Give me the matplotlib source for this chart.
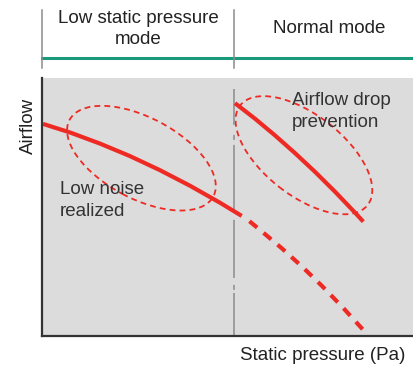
import matplotlib.pyplot as plt
from matplotlib.patches import Ellipse

plt.rcParams['font.family'] = ['Liberation Sans', 'DejaVu Sans']
plt.rcParams['lines.scale_dashes'] = False

# fan curves (static pressure, airflow) in arbitrary units
low_p = [0.27, 7.55, 15.63, 23.72, 31.81, 39.89, 47.98, 53.83]
low_q = [57.14, 54.83, 51.83, 48.46, 44.66, 40.48, 35.90, 32.35]
drop_p = [54.18, 59.30, 64.69, 70.08, 75.47, 80.86, 86.60]
drop_q = [32.35, 28.13, 23.58, 18.71, 13.48, 7.92, 1.62]
norm_p = [52.02, 57.41, 62.80, 68.19, 73.58, 78.98, 84.37, 86.60]
norm_q = [62.72, 58.54, 54.04, 49.27, 44.23, 38.87, 33.23, 30.81]

switch_p = 51.75
mode_labels = ["Low static pressure\nmode", "Normal mode"]

red = '#ee2a24'
W, H = 413, 369
fig = plt.figure(figsize=(W / 100, H / 100), dpi=100)
ax = fig.add_axes([42 / W, 33 / H, 371 / W, 258 / H])
ax.set_xlim(0, 100)
ax.set_ylim(0, 69.5)
ax.set_facecolor('#dcdcdc')
ax.set_xticks([])
ax.set_yticks([])
for s in ['top', 'right']:
    ax.spines[s].set_visible(False)
for s in ['left', 'bottom']:
    ax.spines[s].set_color('#333333')
    ax.spines[s].set_linewidth(1.6)

# mode switch line, uneven dash-dot
ln, = ax.plot([switch_p, switch_p], [0, 66.6], color='#8c8c8c', lw=1.1)
ln.set_dashes((31, 2.2, 3.6, 5, 41.8, 7.2, 46.8, 3.6, 3.6, 7.2, 29, 5))

ax.plot(low_p, low_q, color=red, lw=3, solid_capstyle='butt',
        solid_joinstyle='round')
ax.plot(norm_p, norm_q, color=red, lw=3, solid_capstyle='butt',
        solid_joinstyle='round')
# dashed part starts with a gap so the last dash lands on the end point
ax.plot(drop_p, drop_q, color=red, lw=3, ls=(7.2, (7.2, 6)))

ax.add_patch(Ellipse((26.8, 47.9), 43.9, 21.8, angle=-28, fill=False,
                     ec=red, lw=1.3, ls=(0, (4.2, 3))))
ax.add_patch(Ellipse((70.6, 48.7), 43.6, 21.7, angle=-38, fill=False,
                     ec=red, lw=1.3, ls=(0, (4.2, 3))))

ax.text(4.85, 36.5, "Low noise\nrealized", fontsize=13.5, color='#333333',
        ha='left', va='center', linespacing=1.4)
ax.text(67.4, 60.5, "Airflow drop\nprevention", fontsize=13.5, color='#333333',
        ha='left', va='center', linespacing=1.4)

# header with modes
ax.plot([0, 100], [74.9, 74.9], color='#1a9a7a', lw=2.2, clip_on=False)
for xv in [0, switch_p]:
    ax.plot([xv, xv], [72.2, 87.9], color='#8c8c8c', lw=1.1, clip_on=False)
ax.text(25.9, 82.7, mode_labels[0], fontsize=13.5, color='#222222',
        ha='center', va='center', linespacing=1.3, clip_on=False)
ax.text(77.4, 82.9, mode_labels[1], fontsize=13.5, color='#222222',
        ha='center', va='center', clip_on=False)

fig.text(28 / W, 1 - 126 / H, "Airflow", fontsize=13.5, rotation=90,
         ha='center', va='center', color='#222222')
fig.text(323 / W, 1 - 355 / H, "Static pressure (Pa)", fontsize=13.5,
         ha='center', va='center', color='#222222')

fig.savefig('out.png', dpi=100)
